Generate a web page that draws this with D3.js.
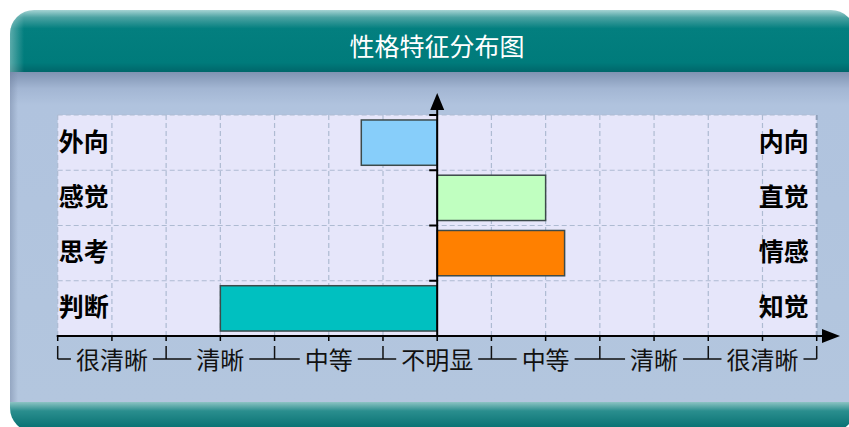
<!DOCTYPE html>
<html>
<head>
<meta charset="utf-8">
<script src="https://cdn.jsdelivr.net/npm/d3@7/dist/d3.min.js"></script>
<style>
    body { margin: 0; background: #fff; }
    text { font-family: "Noto Sans CJK SC", "Noto Sans", sans-serif; }
</style>
</head>
<body>
<svg id="chart"></svg>
<script>
// chart data
const title = '性格特征分布图';
const leftLabels = ['外向', '感觉', '思考', '判断'];
const rightLabels = ['内向', '直觉', '情感', '知觉'];
const values = [-1.4, 2, 2.35, -4];
const barColors = ['#87cefa', '#c0ffc0', '#ff8000', '#00c0c0'];
const scaleLabels = ['很清晰', '清晰', '中等', '不明显', '中等', '清晰', '很清晰'];

const width = 849, height = 427;
const plot = { left: 57.7, right: 816.7, top: 115, bottom: 336 };

const svg = d3.select('#chart')
    .attr('width', width)
    .attr('height', height);

const defs = svg.append('defs');

function vGrad(id, stops, horiz) {
    let g = defs.append('linearGradient').attr('id', id)
        .attr('x1', 0).attr('y1', 0)
        .attr('x2', horiz ? 1 : 0).attr('y2', horiz ? 0 : 1);
    stops.forEach(s => g.append('stop').attr('offset', s[0]).attr('stop-color', s[1]).attr('stop-opacity', s[2] == null ? 1 : s[2]));
}
vGrad('hdr', [[0, '#a6d4d4'], [0.12, '#4aa2a2'], [0.3, '#037f7f'], [0.85, '#007b7b'], [1, '#00666a']]);
vGrad('body', [[0, '#7f93b2'], [0.05, '#a3b6d3'], [0.1, '#b0c3de'], [1, '#b3c6de']]);
vGrad('ftr', [[0, '#8cc3c3'], [0.3, '#2a8e8e'], [1, '#006a6c']]);
vGrad('leftEdge', [[0, '#ffffff', 0.35], [1, '#ffffff', 0]], true);
vGrad('leftEdgeBody', [[0, '#6f809e', 0.45], [1, '#6f809e', 0]], true);

defs.append('clipPath').attr('id', 'panelClip')
    .append('rect')
    .attr('x', 10).attr('y', 10)
    .attr('width', 845).attr('height', 422)
    .attr('rx', 24).attr('ry', 24);

// panel
const panel = svg.append('g').attr('clip-path', 'url(#panelClip)');
panel.append('rect').attr('x', 10).attr('y', 10).attr('width', 845).attr('height', 62).attr('fill', 'url(#hdr)');
panel.append('rect').attr('x', 10).attr('y', 10).attr('width', 14).attr('height', 62).attr('fill', 'url(#leftEdge)');
panel.append('rect').attr('x', 10).attr('y', 72).attr('width', 845).attr('height', 330).attr('fill', 'url(#body)');
panel.append('rect').attr('x', 10).attr('y', 72).attr('width', 8).attr('height', 330).attr('fill', 'url(#leftEdgeBody)');
panel.append('rect').attr('x', 10).attr('y', 402).attr('width', 845).attr('height', 30).attr('fill', 'url(#ftr)');

svg.append('text')
    .attr('x', 437).attr('y', 45)
    .attr('text-anchor', 'middle')
    .attr('dominant-baseline', 'central')
    .attr('fill', '#ffffff')
    .attr('font-size', 25)
    .text(title);

// scales
const xScale = d3.scaleLinear()
    .domain([-7, 7])
    .range([plot.left, plot.right]);

const yScale = d3.scaleBand()
    .domain(d3.range(leftLabels.length))
    .range([plot.top, plot.bottom])
    .paddingInner(0.18)
    .paddingOuter(0.09);

const rowScale = d3.scaleLinear()
    .domain([0, leftLabels.length])
    .range([plot.top, plot.bottom]);

const chart = svg.append('g');

chart.append('rect')
    .attr('x', xScale(-7)).attr('y', plot.top)
    .attr('width', xScale(7) - xScale(-7))
    .attr('height', plot.bottom - plot.top)
    .attr('fill', '#e6e6fa');

// grid
chart.selectAll('.vgrid')
    .data(xScale.ticks(14))
    .join('line')
    .attr('class', 'vgrid')
    .attr('x1', d => xScale(d)).attr('x2', d => xScale(d))
    .attr('y1', plot.top).attr('y2', plot.bottom)
    .attr('stroke', d => d === 7 ? '#8f9fb8' : '#aebbd2')
    .attr('stroke-width', d => d === 7 ? 2 : 1.2)
    .attr('stroke-dasharray', '5,3');

chart.selectAll('.hgrid')
    .data(d3.range(leftLabels.length))
    .join('line')
    .attr('class', 'hgrid')
    .attr('x1', xScale(-7)).attr('x2', xScale(7))
    .attr('y1', d => rowScale(d)).attr('y2', d => rowScale(d))
    .attr('stroke', '#aebbd2')
    .attr('stroke-width', 1.2)
    .attr('stroke-dasharray', '5,3');

// bars
chart.selectAll('.bar')
    .data(values)
    .join('rect')
    .attr('class', 'bar')
    .attr('x', d => xScale(Math.min(0, d)))
    .attr('y', (d, i) => yScale(i))
    .attr('width', d => Math.abs(xScale(d) - xScale(0)))
    .attr('height', yScale.bandwidth())
    .attr('fill', (d, i) => barColors[i])
    .attr('stroke', '#3c4a4a')
    .attr('stroke-width', 1.5);

// row labels
chart.selectAll('.lab-l')
    .data(leftLabels)
    .join('text')
    .attr('class', 'lab-l')
    .attr('x', plot.left + 1)
    .attr('y', (d, i) => yScale(i) + yScale.bandwidth() / 2 - 3)
    .attr('dominant-baseline', 'central')
    .attr('font-size', 25)
    .attr('font-weight', 'bold')
    .attr('fill', '#000')
    .text(d => d);

chart.selectAll('.lab-r')
    .data(rightLabels)
    .join('text')
    .attr('class', 'lab-r')
    .attr('x', plot.right - 8)
    .attr('y', (d, i) => yScale(i) + yScale.bandwidth() / 2 - 3)
    .attr('text-anchor', 'end')
    .attr('dominant-baseline', 'central')
    .attr('font-size', 25)
    .attr('font-weight', 'bold')
    .attr('fill', '#000')
    .text(d => d);

// y axis with arrow
const x0 = xScale(0);
chart.append('line')
    .attr('x1', x0).attr('x2', x0)
    .attr('y1', plot.bottom).attr('y2', 108)
    .attr('stroke', '#000').attr('stroke-width', 2);
chart.append('path')
    .attr('d', `M${x0},93 L${x0 - 7},110 L${x0 + 7},110 Z`)
    .attr('fill', '#000');
chart.selectAll('.ytick')
    .data(d3.range(leftLabels.length))
    .join('line')
    .attr('class', 'ytick')
    .attr('x1', x0 - 8).attr('x2', x0)
    .attr('y1', d => rowScale(d)).attr('y2', d => rowScale(d))
    .attr('stroke', '#000').attr('stroke-width', 2);

// x axis with arrow
chart.append('line')
    .attr('x1', plot.left - 1).attr('x2', 826)
    .attr('y1', plot.bottom).attr('y2', plot.bottom)
    .attr('stroke', '#000').attr('stroke-width', 2.2);
chart.append('path')
    .attr('d', `M840,${plot.bottom} L822,${plot.bottom - 7} L822,${plot.bottom + 7} Z`)
    .attr('fill', '#000');
chart.selectAll('.xtick')
    .data(xScale.ticks(14))
    .join('line')
    .attr('class', 'xtick')
    .attr('x1', d => xScale(d)).attr('x2', d => xScale(d))
    .attr('y1', plot.bottom).attr('y2', plot.bottom + 5)
    .attr('stroke', '#000').attr('stroke-width', 1.5);

// scale labels with bracket lines
const labY = 358;
const brTop = 346, brY = 359;
const labs = chart.selectAll('.lab-b')
    .data(scaleLabels)
    .join('text')
    .attr('class', 'lab-b')
    .attr('x', (d, i) => (xScale(-7 + 2 * i) + xScale(-5 + 2 * i)) / 2)
    .attr('y', labY)
    .attr('text-anchor', 'middle')
    .attr('dominant-baseline', 'central')
    .attr('font-size', 24)
    .attr('fill', '#111')
    .text(d => d);

const halfW = [];
labs.each(function () { halfW.push(this.getComputedTextLength() / 2); });

const bounds = d3.range(scaleLabels.length + 1).map(i => -7 + 2 * i);
const gap = 5;
let br = '';
bounds.forEach((b, i) => {
    let bx = xScale(b);
    br += `M${bx},${brTop}L${bx},${brY}`;
    if (i > 0) {
        let c = (xScale(b - 2) + xScale(b)) / 2;
        br += `M${c + halfW[i - 1] + gap},${brY}L${bx},${brY}`;
    }
    if (i < scaleLabels.length) {
        let c = (xScale(b) + xScale(b + 2)) / 2;
        br += `M${bx},${brY}L${c - halfW[i] - gap},${brY}`;
    }
});
chart.append('path')
    .attr('d', br)
    .attr('fill', 'none')
    .attr('stroke', '#111')
    .attr('stroke-width', 1.5);
</script>
</body>
</html>
